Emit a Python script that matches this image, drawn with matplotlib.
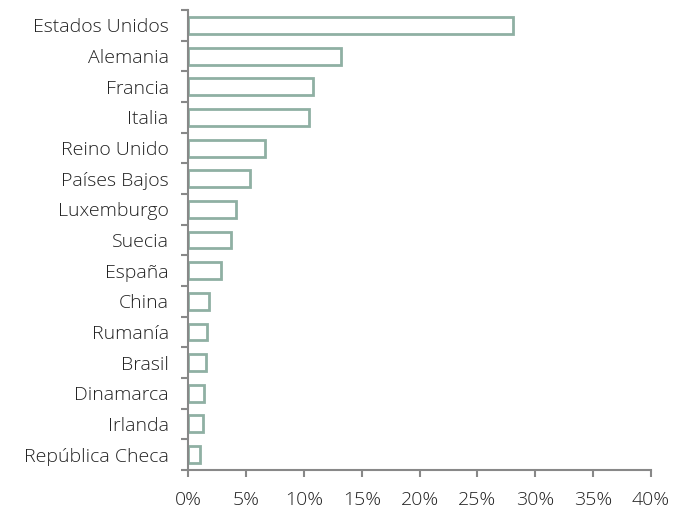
import matplotlib.pyplot as plt
from matplotlib.ticker import FixedLocator, PercentFormatter

paises = ["Estados Unidos", "Alemania", "Francia", "Italia", "Reino Unido",
          "Países Bajos", "Luxemburgo", "Suecia", "España", "China",
          "Rumanía", "Brasil", "Dinamarca", "Irlanda", "República Checa"]
valores = [28.1, 13.2, 10.8, 10.4, 6.6, 5.3, 4.1, 3.7, 2.8, 1.8,
           1.6, 1.55, 1.35, 1.25, 1.0]

plt.rcParams["font.family"] = ["Open Sans", "DejaVu Sans"]
plt.rcParams["font.weight"] = "light"

fig = plt.figure(figsize=(6.97, 5.08), dpi=100)
ax = fig.add_axes([0.27, 0.075, 0.664, 0.905])

pos = list(range(len(paises)))
ax.barh(pos, valores, height=0.55, facecolor="white", edgecolor="#8fb0a3", linewidth=2)

ax.set_ylim(len(paises) - 0.5, -0.5)
ax.set_xlim(0, 40)
ax.set_xticks(range(0, 41, 5))
ax.xaxis.set_major_formatter(PercentFormatter(decimals=0))

ax.set_yticks(pos)
ax.set_yticklabels(paises)
ax.yaxis.set_minor_locator(FixedLocator([p - 0.5 for p in range(len(paises) + 1)]))
ax.tick_params(axis="y", which="major", length=0, pad=14, labelsize=14, labelcolor="#222222")
ax.tick_params(axis="y", which="minor", length=5, width=1.5, color="#888888")
ax.tick_params(axis="x", length=5, width=1.5, color="#888888", labelsize=14, labelcolor="#222222", pad=10)

for side in ["top", "right"]:
    ax.spines[side].set_visible(False)
for side in ["left", "bottom"]:
    ax.spines[side].set_color("#888888")
    ax.spines[side].set_linewidth(1.5)

fig.savefig("out.png", dpi=100)
